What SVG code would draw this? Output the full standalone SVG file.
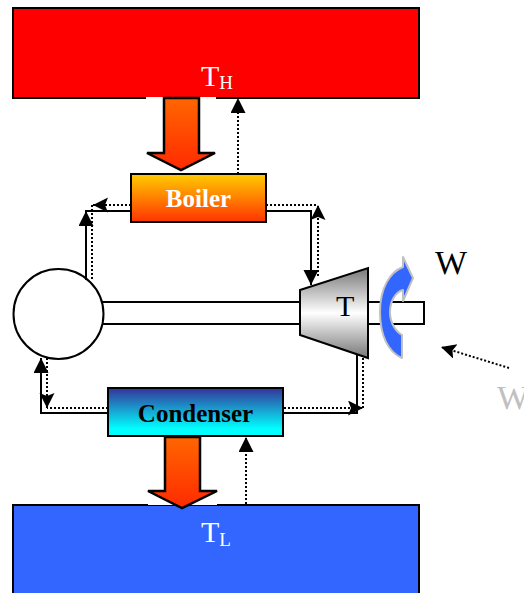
<svg xmlns="http://www.w3.org/2000/svg" width="524" height="593" viewBox="0 0 524 593">
<style>
.res{stroke:#000;stroke-width:2}
.box{stroke:#000;stroke-width:2}
.solid{fill:none;stroke:#000;stroke-width:2;stroke-linejoin:miter}
.dot{fill:none;stroke:#000;stroke-width:2;stroke-dasharray:2 2}
.heat{fill:url(#heatGrad);stroke:#000;stroke-width:2.5;stroke-linejoin:miter}
text{font-family:"Liberation Serif","Times New Roman",serif}
.big{font-size:30px}
.wrk{font-size:34px}
.sub{font-size:19px}
.lbl{font-size:25px;font-weight:bold;text-anchor:middle}
</style>
<defs>
<linearGradient id="heatGrad" x1="0" y1="0" x2="0" y2="1"><stop offset="0" stop-color="#ff6600"/><stop offset="1" stop-color="#ff2a00"/></linearGradient>
<linearGradient id="boilerGrad" x1="0" y1="0" x2="0" y2="1"><stop offset="0" stop-color="#ffcc00"/><stop offset="1" stop-color="#ff3300"/></linearGradient>
<linearGradient id="condGrad" x1="0" y1="0" x2="0" y2="1"><stop offset="0" stop-color="#333399"/><stop offset="0.85" stop-color="#00ffff"/><stop offset="1" stop-color="#00ffff"/></linearGradient>
<linearGradient id="turbGrad" x1="0" y1="0" x2="0" y2="1"><stop offset="0" stop-color="#777"/><stop offset="0.5" stop-color="#fff"/><stop offset="1" stop-color="#777"/></linearGradient>
<marker id="tri" markerUnits="userSpaceOnUse" markerWidth="16" markerHeight="16" refX="15" refY="7.500" orient="auto"><path d="M0 0L15 7.500L0 15Z" fill="#000"/></marker>
<marker id="barb" markerUnits="userSpaceOnUse" markerWidth="16" markerHeight="16" refX="15" refY="7.500" orient="auto"><path d="M0 0L15 7.500L0 15L3 7.500Z" fill="#000"/></marker>
</defs>

<g id="hot-reservoir">
<rect class="res" x="13" y="8" width="406" height="90" fill="#ff0000"/>
<text x="201" y="86" class="big" fill="#fff">T<tspan class="sub" dy="3">H</tspan></text>
</g>
<g id="cold-reservoir">
<rect class="res" x="13" y="505" width="406" height="100" fill="#3366ff"/>
<text x="201" y="542" class="big" fill="#fff">T<tspan class="sub" dy="4">L</tspan></text>
</g>

<g id="shaft">
<rect x="90" y="302" width="334" height="22" fill="#fff" stroke="#000" stroke-width="2"/>
</g>
<g id="pump">
<circle cx="58.500" cy="314" r="45" fill="#fff" stroke="#000" stroke-width="2"/>
</g>

<g id="connectors">
<path class="solid" d="M131 211H86V280" />
<path class="solid" d="M86 280V211" marker-end="url(#tri)"/>
<path class="dot" d="M131 205H93" marker-end="url(#barb)"/>
<path class="dot" d="M92 205V280"/>
<path class="solid" d="M266 211H311V285" marker-end="url(#tri)"/>
<path class="dot" d="M266 205H318"/>
<path class="dot" d="M318 276V205" marker-end="url(#barb)"/>
<path class="dot" d="M238 174V98" marker-end="url(#tri)"/>
<path class="solid" d="M357 354V413H284"/>
<path class="dot" d="M363 358V408"/>
<path class="dot" d="M284 408H363" marker-end="url(#barb)"/>
<path class="solid" d="M108 413H41V358" marker-end="url(#tri)"/>
<path class="dot" d="M108 408H47"/>
<path class="dot" d="M47 358V408" marker-end="url(#barb)"/>
<path class="dot" d="M246 504V437" marker-end="url(#tri)"/>
<path class="dot" d="M509 368L441 347" marker-end="url(#barb)"/>
</g>

<g id="turbine">
<polygon points="300,290 368,268 368,358 300,335" fill="url(#turbGrad)" stroke="#000" stroke-width="2"/>
<text x="336" y="316" font-size="30">T</text>
</g>

<g id="boiler">
<rect class="box" x="131" y="174" width="135" height="48" fill="url(#boilerGrad)"/>
<text x="198.500" y="207" class="lbl" fill="#fff">Boiler</text>
</g>
<g id="condenser">
<rect class="box" x="108" y="388" width="175" height="48" fill="url(#condGrad)"/>
<text x="195.500" y="422" class="lbl" fill="#000">Condenser</text>
</g>

<g id="heat-in">
<rect x="146" y="97" width="70" height="73" fill="#fff"/>
<path class="heat" d="M164 98V153H147L181 170L215 153H199V98Z"/>
</g>
<g id="heat-out">
<rect x="148" y="437" width="69" height="68" fill="#fff"/>
<path class="heat" d="M165 437V491H148L182 508L217 491H200V437Z"/>
</g>

<g id="work-arrow">
<path d="M402 358C388 352 380 335 380 312C380 288 390 272 403 267V257L413 278L403 301V290C395 292 390 302 390 312C390 322 395 331 402 335Z" fill="#3366ff" stroke="#c0c0c0" stroke-width="2" stroke-linejoin="round"/>
</g>
<g id="work-labels">
<text x="435" y="274" class="wrk" fill="#000">W</text>
<text x="497" y="409" class="wrk" fill="#c0c0c0">W</text>
</g>
</svg>
